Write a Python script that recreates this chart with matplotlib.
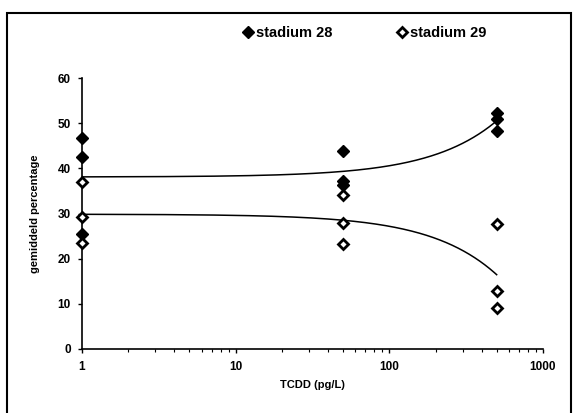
import numpy as np
import matplotlib.pyplot as plt
from matplotlib.patches import Rectangle

plt.rcParams['font.family'] = ['Liberation Sans', 'DejaVu Sans']
plt.rcParams['font.weight'] = 'bold'

# TCDD concentration (pg/L) and mean percentage per replicate
x28 = [1, 1, 1, 50, 50, 50, 500, 500, 500]
y28 = [46.8, 42.6, 25.5, 43.9, 37.2, 36.3, 52.3, 51.0, 48.3]
x29 = [1, 1, 1, 50, 50, 50, 500, 500, 500]
y29 = [36.9, 29.3, 23.5, 34.0, 28.0, 23.3, 27.6, 12.8, 9.0]
labels = ["stadium 28", "stadium 29"]

fig = plt.figure(figsize=(5.73, 4.13), dpi=100)
ax = fig.add_axes([0.143, 0.155, 0.8045, 0.656])

# linear trendlines (as in the original spreadsheet)
xx = np.linspace(1, 500, 400)
for xs, ys in [(x28, y28), (x29, y29)]:
    b, a = np.polyfit(xs, ys, 1)
    ax.plot(xx, a + b * xx, color="black", lw=1.1, zorder=2)

ax.plot(x28, y28, "D", ms=6.5, mfc="black", mec="black", ls="none",
        label=labels[0], zorder=3, clip_on=False)
ax.plot(x29, y29, "D", ms=5.5, mfc="white", mec="black", mew=2, ls="none",
        label=labels[1], zorder=3, clip_on=False)

ax.set_xscale("log")
ax.set_xlim(1, 1000)
ax.set_ylim(0, 60)
ax.set_yticks(range(0, 61, 10))
ax.set_xticks([1, 10, 100, 1000])
ax.set_xticklabels(["1", "10", "100", "1000"])
for s in ["top", "right"]:
    ax.spines[s].set_visible(False)
for s in ["left", "bottom"]:
    ax.spines[s].set_linewidth(1.2)
ax.tick_params(axis="both", labelsize=8.5, width=1, length=3)
ax.tick_params(axis="y", pad=5)
ax.tick_params(axis="x", pad=6)
ax.tick_params(axis="x", which="minor", length=2.5, width=0.8)

ax.set_xlabel("TCDD (pg/L)", fontsize=8, fontweight="bold", labelpad=5)
ax.set_ylabel("gemiddeld percentage", fontsize=8, fontweight="bold", labelpad=13)

fig.legend(loc="upper left", bbox_to_anchor=(0.397, 0.968), ncol=2, frameon=False,
           fontsize=10.5, handletextpad=0.05, columnspacing=4.3, handlelength=1)

fig.patches.append(Rectangle((7 / 573, -0.02), 0.985, 0.988, transform=fig.transFigure,
                             fill=False, edgecolor="black", lw=1.5))

fig.savefig("out.png", dpi=100)
